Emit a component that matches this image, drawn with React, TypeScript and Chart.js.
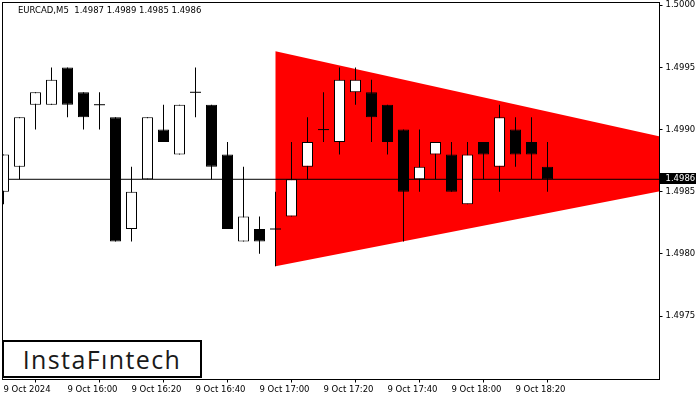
import React, { useEffect, useRef } from 'react';
import { Chart, registerables } from 'chart.js';

Chart.register(...registerables);

const symbolLabel = 'EURCAD,M5';
const opens = [1.4985, 1.4987, 1.4992, 1.4992, 1.4995, 1.4993, 1.4992, 1.4991, 1.4982, 1.4986, 1.4990, 1.4988, 1.4993, 1.4992, 1.4988, 1.4981, 1.4982, 1.4982, 1.4983, 1.4987, 1.4990, 1.4989, 1.4993, 1.4993, 1.4992, 1.4990, 1.4986, 1.4988, 1.4988, 1.4984, 1.4989, 1.4987, 1.4990, 1.4989, 1.4987];
const highs = [1.4988, 1.4991, 1.4993, 1.4995, 1.4995, 1.4993, 1.4993, 1.4991, 1.4987, 1.4991, 1.4992, 1.4992, 1.4995, 1.4992, 1.4989, 1.4987, 1.4983, 1.4985, 1.4989, 1.4991, 1.4993, 1.4995, 1.4995, 1.4994, 1.4992, 1.4990, 1.4990, 1.4989, 1.4989, 1.4989, 1.4989, 1.4992, 1.4991, 1.4991, 1.4989];
const lows = [1.4984, 1.4986, 1.4990, 1.4992, 1.4991, 1.4990, 1.4990, 1.4981, 1.4981, 1.4986, 1.4989, 1.4988, 1.4991, 1.4986, 1.4982, 1.4981, 1.4980, 1.4979, 1.4983, 1.4986, 1.4989, 1.4988, 1.4992, 1.4989, 1.4988, 1.4981, 1.4985, 1.4986, 1.4985, 1.4984, 1.4986, 1.4985, 1.4987, 1.4986, 1.4985];
const closes = [1.4988, 1.4991, 1.4993, 1.4994, 1.4992, 1.4991, 1.4992, 1.4981, 1.4985, 1.4991, 1.4989, 1.4992, 1.4993, 1.4987, 1.4982, 1.4983, 1.4981, 1.4982, 1.4986, 1.4989, 1.4990, 1.4994, 1.4994, 1.4991, 1.4989, 1.4985, 1.4987, 1.4989, 1.4985, 1.4988, 1.4988, 1.4991, 1.4988, 1.4988, 1.4986];

const timeTickIndex = [0, 4, 8, 12, 16, 20, 24, 28, 32];
const timeTickLabels = ['9 Oct 2024', '9 Oct 16:00', '9 Oct 16:20', '9 Oct 16:40', '9 Oct 17:00', '9 Oct 17:20', '9 Oct 17:40', '9 Oct 18:00', '9 Oct 18:20'];
const priceTicks = [1.4975, 1.498, 1.4985, 1.499, 1.4995, 1.5];

const triangleX = [17, 49.25, 17];
const triangleY = [1.49963, 1.49871, 1.4979];

const xMin = -0.0625;
const xMax = 41.0;
const yMin = 1.4969891;
const yMax = 1.5000225;

const FONT = 'DejaVu Sans';

export default function App() {
  const canvasRef = useRef<HTMLCanvasElement | null>(null);

  useEffect(() => {
    const canvas = canvasRef.current;
    if (!canvas) return;
    const n = closes.length;
    const idx = closes.map((_, i) => i);
    const last = n - 1;
    const lastClose = closes[last];
    const titleText = `${symbolLabel}  ${opens[last].toFixed(4)} ${highs[last].toFixed(4)} ${lows[last].toFixed(4)} ${lastClose.toFixed(4)}`;

    const bodyIdx = idx.filter((i) => opens[i] !== closes[i]);
    const dojiIdx = idx.filter((i) => opens[i] === closes[i]);

    const overlayPlugin = {
      id: 'mtOverlay',
      afterDraw(chart: any) {
        const { ctx, chartArea: a } = chart;
        ctx.save();
        ctx.strokeStyle = '#000';
        ctx.lineWidth = 1;
        ctx.strokeRect(a.left, a.top, a.right - a.left, a.bottom - a.top);
        ctx.font = `8.5px "${FONT}"`;
        ctx.textBaseline = 'middle';
        ctx.textAlign = 'left';
        ctx.fillStyle = '#000';
        ctx.fillText(titleText, 18, 11);
        const y = chart.scales.y.getPixelForValue(lastClose);
        ctx.fillStyle = '#000';
        ctx.fillRect(a.right + 0.5, Math.round(y) - 6, 36, 11);
        ctx.fillStyle = '#fff';
        ctx.fillText(lastClose.toFixed(4), a.right + 6, y);
        ctx.restore();
      },
    };

    const chart = new Chart(canvas, {
      type: 'bar',
      data: {
        datasets: [
          {
            type: 'line',
            data: dojiIdx.map((i) => ({ x: i, y: closes[i] })),
            showLine: false,
            pointStyle: 'line',
            pointRadius: 5.5,
            pointBorderWidth: 1,
            pointBorderColor: '#000',
            pointBackgroundColor: '#000',
            order: 1,
          } as any,
          {
            type: 'bar',
            data: bodyIdx.map((i) => ({ x: i, y: [Math.min(opens[i], closes[i]), Math.max(opens[i], closes[i])] })),
            backgroundColor: bodyIdx.map((i) => (closes[i] > opens[i] ? '#ffffff' : '#000000')),
            borderColor: '#000',
            borderWidth: 1,
            borderSkipped: false,
            barThickness: 11,
            grouped: false,
            inflateAmount: 0,
            order: 2,
          } as any,
          {
            type: 'bar',
            data: idx.map((i) => ({ x: i, y: [lows[i], highs[i]] })),
            backgroundColor: '#000',
            borderWidth: 0,
            barThickness: 1,
            grouped: false,
            inflateAmount: 0,
            order: 3,
          } as any,
          {
            type: 'line',
            data: [
              { x: xMin, y: lastClose },
              { x: xMax, y: lastClose },
            ],
            borderColor: '#000',
            borderWidth: 1,
            pointRadius: 0,
            clip: 0,
            order: 4,
          } as any,
          {
            type: 'line',
            data: triangleX.map((x, i) => ({ x, y: triangleY[i] })),
            borderColor: '#ff0000',
            borderWidth: 0,
            backgroundColor: '#ff0000',
            fill: 'shape',
            pointRadius: 0,
            tension: 0,
            order: 5,
          } as any,
        ],
      },
      options: {
        animation: false,
        responsive: true,
        maintainAspectRatio: false,
        layout: { autoPadding: false, padding: { left: 2.5, top: 2.5, right: 0, bottom: 0 } },
        plugins: {
          legend: { display: false },
          tooltip: { enabled: false },
          title: { display: false },
        },
        scales: {
          x: {
            type: 'linear',
            min: xMin,
            max: xMax,
            offset: false,
            afterBuildTicks: (s: any) => {
              s.ticks = timeTickIndex.map((v) => ({ value: v }));
            },
            afterFit: (s: any) => {
              s.height = 20.5;
              s.paddingLeft = 0;
              s.paddingRight = 0;
            },
            ticks: {
              autoSkip: false,
              maxRotation: 0,
              minRotation: 0,
              align: 'start',
              padding: 2,
              color: '#000',
              font: { family: FONT, size: 8.5 },
              callback: (v: any) => {
                const k = timeTickIndex.indexOf(Number(v));
                return k >= 0 ? timeTickLabels[k] : '';
              },
            },
            grid: { display: true, drawOnChartArea: false, drawTicks: true, tickLength: 3, color: '#000', lineWidth: 1 },
            border: { display: false },
          },
          y: {
            type: 'linear',
            position: 'right',
            min: yMin,
            max: yMax,
            beginAtZero: false,
            afterBuildTicks: (s: any) => {
              s.ticks = priceTicks.map((v) => ({ value: v }));
            },
            afterFit: (s: any) => {
              s.width = 40.5;
              s.paddingTop = 0;
              s.paddingBottom = 0;
            },
            ticks: {
              padding: 3,
              color: '#000',
              font: { family: FONT, size: 8.5 },
              callback: (v: any) => Number(v).toFixed(4),
            },
            grid: { display: true, drawOnChartArea: false, drawTicks: true, tickLength: 3, color: '#000', lineWidth: 1 },
            border: { display: false },
          },
        },
      } as any,
      plugins: [overlayPlugin],
    });

    return () => chart.destroy();
  }, []);

  return (
    <div style={{ position: 'absolute', left: 0, top: 0, width: 700, height: 400, background: '#fff' }}>
      <canvas ref={canvasRef} />
      <div
        style={{
          position: 'absolute',
          left: 2,
          top: 340,
          width: 200,
          height: 38,
          boxSizing: 'border-box',
          border: '2px solid #000',
          background: '#fff',
          display: 'flex',
          alignItems: 'center',
          justifyContent: 'center',
          fontFamily: '"Open Sans", sans-serif',
          fontSize: 25,
          fontWeight: 500,
          letterSpacing: 1.4,
          color: '#1a1a1a',
          lineHeight: 1,
        }}
      >
        InstaFıntech
      </div>
    </div>
  );
}
